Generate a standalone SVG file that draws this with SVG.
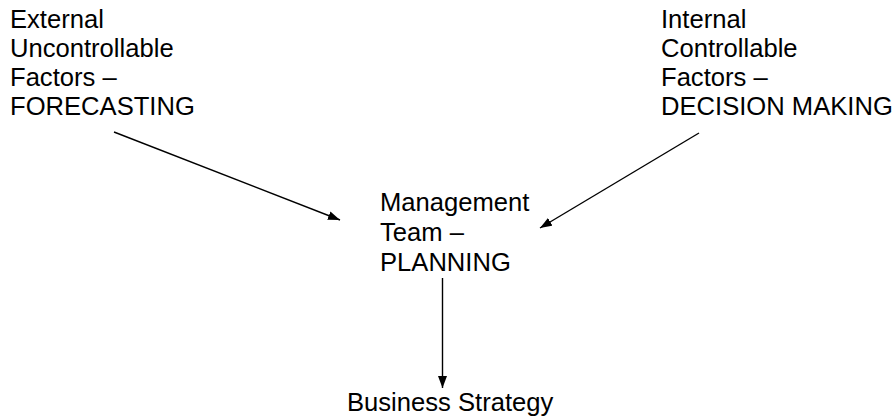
<svg xmlns="http://www.w3.org/2000/svg" width="895" height="419" viewBox="0 0 895 419">
  <style>
    .label { font-family: "Liberation Sans", Arial, sans-serif; font-size: 25.6px; fill: #000; }
    .edge { stroke: #000; stroke-width: 1.4; fill: none; }
  </style>
  <defs>
    <marker id="arrow" viewBox="0 0 12 10" refX="12" refY="5" markerWidth="12" markerHeight="10" markerUnits="userSpaceOnUse" orient="auto">
      <path d="M0,0.5 L12,5 L0,9.5 Z" fill="#000"/>
    </marker>
  </defs>
  <rect width="895" height="419" fill="#fff"/>

  <g id="external-factors">
    <text class="label" x="10" y="28">External</text>
    <text class="label" x="10" y="57">Uncontrollable</text>
    <text class="label" x="10" y="86">Factors –</text>
    <text class="label" x="10" y="115">FORECASTING</text>
  </g>

  <g id="internal-factors">
    <text class="label" x="661" y="28">Internal</text>
    <text class="label" x="661" y="57">Controllable</text>
    <text class="label" x="661" y="86">Factors –</text>
    <text class="label" x="661" y="115">DECISION MAKING</text>
  </g>

  <g id="management-team">
    <text class="label" x="380" y="211">Management</text>
    <text class="label" x="380" y="241">Team –</text>
    <text class="label" x="380" y="271">PLANNING</text>
  </g>

  <g id="business-strategy">
    <text class="label" x="347" y="411">Business Strategy</text>
  </g>

  <g id="connectors">
    <line class="edge" x1="114" y1="132" x2="340" y2="220" marker-end="url(#arrow)"/>
    <line class="edge" x1="699" y1="133" x2="540" y2="228" marker-end="url(#arrow)"/>
    <line class="edge" x1="442.5" y1="278" x2="442.5" y2="388" marker-end="url(#arrow)"/>
  </g>
</svg>
